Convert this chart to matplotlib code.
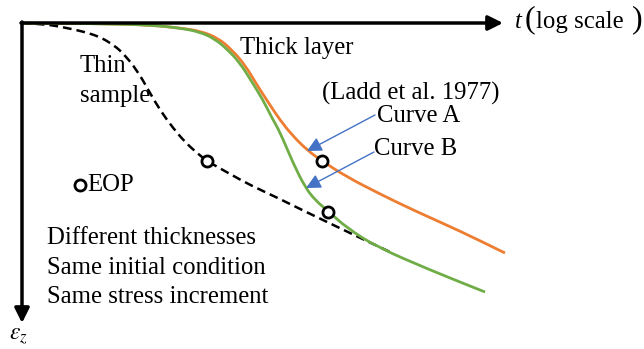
import matplotlib.pyplot as plt
from matplotlib.path import Path
from matplotlib.patches import PathPatch

plt.rcParams['mathtext.fontset'] = 'stix'

# schematic curves, in pixel coordinates (x right, y down)
thin_x = [22, 45, 67, 85, 100, 112, 122, 137, 150, 160, 173, 185, 197, 207, 230, 250, 280, 300, 350, 390]
thin_y = [23, 24, 28, 32, 37, 44, 52, 70, 93, 110, 128, 142, 153, 161, 174, 185, 199, 209, 233, 252]

curve_a_x = [22, 100, 150, 180, 200, 218, 232, 245, 257, 268, 280, 292, 307, 322, 347, 380, 413, 460, 505]
curve_a_y = [23, 23.5, 25, 28, 31, 38, 50, 65, 85, 102, 120, 135, 150, 161, 177, 194, 210, 231, 253]

curve_b_x = [22, 100, 150, 180, 200, 215, 228, 240, 252, 263, 272, 280, 293, 305, 315, 328, 347, 377, 430, 485]
curve_b_y = [23, 23.5, 25, 28, 32, 39, 50, 63, 82, 100, 118, 132, 163, 187, 200, 211, 228, 247, 270, 292]

# end-of-primary points on each curve
eop_x = [207, 322, 328]
eop_y = [161, 161, 212]


def smooth_curve(ax, xs, ys, **kw):
    # quadratic bezier through the midpoints, using the read points as controls
    pts = list(zip(xs, ys))
    verts = [pts[0]]
    codes = [Path.MOVETO]
    for i in range(1, len(pts) - 1):
        mid = ((pts[i][0] + pts[i + 1][0]) / 2, (pts[i][1] + pts[i + 1][1]) / 2)
        verts += [pts[i], mid]
        codes += [Path.CURVE3, Path.CURVE3]
    verts.append(pts[-1])
    codes.append(Path.LINETO)
    ax.add_patch(PathPatch(Path(verts, codes), fill=False, **kw))


fig = plt.figure(figsize=(6.44, 3.49), dpi=100)
ax = fig.add_axes([0, 0, 1, 1])
ax.set_xlim(0, 644)
ax.set_ylim(349, 0)
ax.axis('off')

serif = 'Liberation Serif'
fs = 17.8

# axes arrows
ax.annotate('', xy=(503, 23), xytext=(21, 23),
            arrowprops=dict(arrowstyle='-|>', lw=2.5, color='black', mutation_scale=22, shrinkA=0, shrinkB=0))
ax.annotate('', xy=(22, 323), xytext=(22, 22),
            arrowprops=dict(arrowstyle='-|>', lw=2.5, color='black', mutation_scale=22, shrinkA=0, shrinkB=0))

smooth_curve(ax, thin_x, thin_y, edgecolor='black', lw=1.8, ls=(0, (3.5, 2)))
smooth_curve(ax, curve_a_x, curve_a_y, edgecolor='#ED7D31', lw=2)
smooth_curve(ax, curve_b_x, curve_b_y, edgecolor='#70AD47', lw=2)
ax.plot(eop_x, eop_y, 'o', ms=8, mfc='white', mec='black', mew=2, ls='none', zorder=5)

# legend marker for EOP
ax.plot([80], [185], 'o', ms=8, mfc='white', mec='black', mew=2)
ax.text(87, 185, 'EOP', fontsize=fs, family=serif, va='center', ha='left')

# blue pointers
for tx, ty, hx, hy in [(375, 115, 307, 151), (374, 152, 306, 188)]:
    ax.annotate('', xy=(hx, hy), xytext=(tx, ty),
                arrowprops=dict(arrowstyle='-|>', lw=1, color='#4472C4', mutation_scale=22, shrinkA=0, shrinkB=0))

ax.text(240, 48, 'Thick layer', fontsize=fs, family=serif, va='center', ha='left')
ax.text(322, 93, '(Ladd et al. 1977)', fontsize=fs, family=serif, va='center', ha='left')
ax.text(377, 116, 'Curve A', fontsize=fs, family=serif, va='center', ha='left')
ax.text(374, 149, 'Curve B', fontsize=fs, family=serif, va='center', ha='left')
ax.text(80, 66, 'Thin', fontsize=fs, family=serif, va='center', ha='left')
ax.text(80, 96, 'sample', fontsize=fs, family=serif, va='center', ha='left')

ax.text(47, 238, 'Different thicknesses', fontsize=fs, family=serif, va='center', ha='left')
ax.text(47, 268, 'Same initial condition', fontsize=fs, family=serif, va='center', ha='left')
ax.text(47, 297, 'Same stress increment', fontsize=fs, family=serif, va='center', ha='left')

# horizontal axis label: t (log scale)
ax.text(515, 22, 't', fontsize=fs, family=serif, style='italic', va='center', ha='left')
ax.text(525, 20, '(', fontsize=23, family=serif, va='center', ha='left')
ax.text(536, 22, 'log scale', fontsize=fs, family=serif, va='center', ha='left')
ax.text(632, 20, ')', fontsize=23, family=serif, va='center', ha='left')

# vertical axis label: strain
ax.text(9, 335, r'$\varepsilon_z$', fontsize=17, va='center', ha='left')

fig.savefig('out.png', dpi=100)
